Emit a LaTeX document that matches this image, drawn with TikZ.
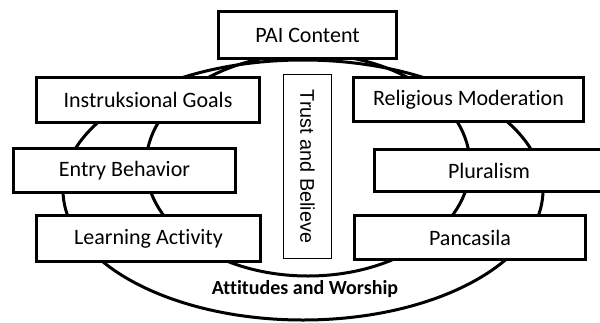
\documentclass[tikz,border=0pt]{standalone}
\usepackage{fontspec}
\setmainfont{Carlito}[Ligatures={NoCommon}]
\newfontfamily\arialfont{Liberation Sans}
\begin{document}
\begin{tikzpicture}[x=0.5pt, y=-0.5pt,
    box/.style={draw, line width=1.5pt, fill=white, inner sep=0pt, font=\fontsize{11}{13}\selectfont},
    ring/.style={line width=1.5pt}]
  \useasboundingbox (0,0) rectangle (600,322);
  \clip (0,0) rectangle (600,322);

  % Outer and inner ellipse
  \draw[ring] (303,190) ellipse [x radius=120pt, y radius=65pt];
  \draw[ring] (308,165) ellipse [x radius=81pt, y radius=55.5pt];

  % Label between the two rings
  \node[font=\fontsize{10}{12}\selectfont\bfseries] (attitudes) at (305,289) {Attitudes and Worship};

  % Top box
  \node[box, minimum width=89pt, minimum height=23.5pt] (pai) at (307.5,35) {PAI Content};

  % Left column
  \node[box, minimum width=111.5pt, minimum height=22.5pt] (goals) at (148,100) {Instruksional Goals};
  \node[box, minimum width=111pt, minimum height=22pt] (entry) at (124.5,170.5) {Entry Behavior};
  \node[box, minimum width=112pt, minimum height=23pt] (activity) at (148.5,238.5) {Learning Activity};

  % Right column
  \node[box, minimum width=115pt, minimum height=22pt] (moderation) at (468.5,99.5) {Religious Moderation};
  \node[box, minimum width=114.5pt, minimum height=21pt] (pluralism) at (489,170.5) {Pluralism};
  \node[box, minimum width=115.5pt, minimum height=22pt] (pancasila) at (470,237.5) {Pancasila};

  % Middle box, text turned
  \node[draw, line width=0.5pt, fill=white, inner sep=0pt, minimum width=24pt, minimum height=92pt] (trust) at (307.5,166.5) {};
  \node[rotate=-90, font=\arialfont\fontsize{9.9}{12}\selectfont] (trusttext) at (trust.center) {Trust and Believe};
\end{tikzpicture}
\end{document}
